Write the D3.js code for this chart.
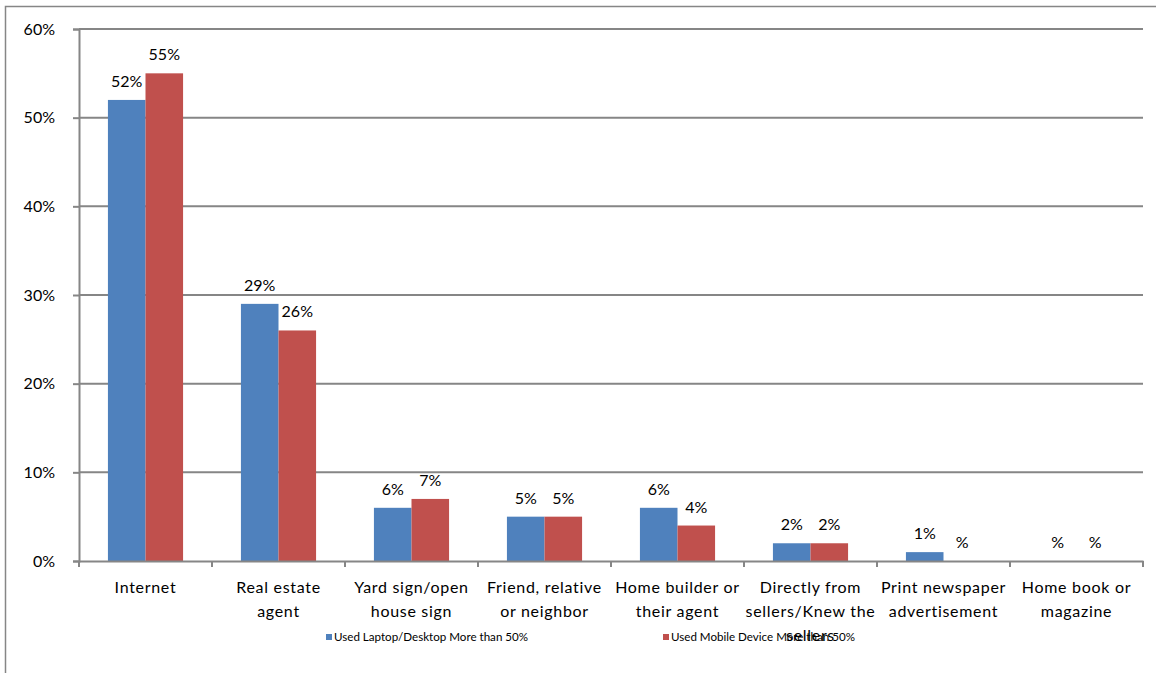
<!DOCTYPE html>
<html>
<head>
<meta charset="utf-8">
<script src="https://cdn.jsdelivr.net/npm/d3@7"></script>
<style>
  html, body { margin: 0; padding: 0; background: #fff; }
  svg { display: block; font-family: Lato, "Open Sans", sans-serif; }
</style>
</head>
<body>
<svg id="chart" width="1156" height="673"></svg>
<script>
// Source of the home that was purchased, by device used most during the search
const categories = [
  "Internet",
  "Real estate\nagent",
  "Yard sign/open\nhouse sign",
  "Friend, relative\nor neighbor",
  "Home builder or\ntheir agent",
  "Directly from\nsellers/Knew the\nsellers",
  "Print newspaper\nadvertisement",
  "Home book or\nmagazine"
];
const seriesNames = [
  "Used Laptop/Desktop More than 50%",
  "Used Mobile Device More than 50%"
];
const laptopValues = [52, 29, 6, 5, 6, 2, 1, 0];
const mobileValues = [55, 26, 7, 5, 4, 2, 0, 0];
const yTicks = [0, 10, 20, 30, 40, 50, 60];
const colors = ["#4F81BD", "#C0504D"];

const svg = d3.select("#chart");
const margin = { left: 79, right: 1143, top: 29, bottom: 561 };

// outer chart frame
svg.append("path")
  .attr("d", "M5.5,673 V6.5 H1156")
  .attr("fill", "none")
  .attr("stroke", "#868686")
  .attr("stroke-width", 1.5);

const x = d3.scaleBand()
  .domain(categories)
  .range([margin.left, margin.right])
  .paddingInner(0)
  .paddingOuter(0);

const inner = d3.scaleBand()
  .domain([0, 1])
  .range([0, x.bandwidth()])
  .paddingOuter(0.77)
  .paddingInner(0);

const y = d3.scaleLinear().domain([0, 60]).range([margin.bottom, margin.top]);

// horizontal gridlines
svg.append("g")
  .selectAll("line")
  .data(yTicks.filter(t => t > 0))
  .join("line")
  .attr("x1", margin.left).attr("x2", margin.right)
  .attr("y1", d => y(d)).attr("y2", d => y(d))
  .attr("stroke", "#868686").attr("stroke-width", 2);

// y axis
const yAxis = svg.append("g")
  .attr("transform", `translate(${margin.left},0)`)
  .call(d3.axisLeft(y).tickValues(yTicks).tickFormat(d => d + "%").tickSize(6).tickPadding(18));
yAxis.select(".domain").attr("stroke", "#868686").attr("stroke-width", 2);
yAxis.selectAll(".tick line").attr("stroke", "#868686").attr("stroke-width", 2);
yAxis.selectAll("text").attr("font-size", 16).attr("fill", "#000")
  .attr("font-family", "Lato, sans-serif");

// bars
const rows = categories.map((c, i) => ({ cat: c, vals: [laptopValues[i], mobileValues[i]] }));
const groups = svg.append("g").selectAll("g")
  .data(rows)
  .join("g")
  .attr("transform", d => `translate(${x(d.cat)},0)`);

groups.selectAll("rect")
  .data(d => d.vals.map((v, s) => ({ v, s })))
  .join("rect")
  .attr("x", d => inner(d.s))
  .attr("width", inner.bandwidth())
  .attr("y", d => y(d.v))
  .attr("height", d => y(0) - y(d.v))
  .attr("fill", d => colors[d.s]);

// value labels
groups.selectAll("text")
  .data(d => d.vals.map((v, s) => ({ v, s })))
  .join("text")
  .attr("x", d => inner(d.s) + inner.bandwidth() / 2)
  .attr("y", d => y(d.v) - 13)
  .attr("text-anchor", "middle")
  .attr("font-size", 16)
  .attr("fill", "#000")
  .text(d => (d.v === 0 ? "" : d.v) + "%");

// x axis
const xAxis = svg.append("g")
  .attr("transform", `translate(0,${margin.bottom})`)
  .call(d3.axisBottom(x).tickSize(0).tickFormat(""));
xAxis.select(".domain").attr("stroke", "#868686").attr("stroke-width", 2);

// category boundary ticks
svg.append("g").selectAll("line")
  .data(d3.range(categories.length + 1))
  .join("line")
  .attr("x1", i => margin.left + i * x.step())
  .attr("x2", i => margin.left + i * x.step())
  .attr("y1", margin.bottom).attr("y2", margin.bottom + 6)
  .attr("stroke", "#868686").attr("stroke-width", 2);

// legend (drawn first so the wrapped category text sits on top, as in the layout)
const legendX = [326, 663];
const legend = svg.append("g").selectAll("g")
  .data(seriesNames)
  .join("g")
  .attr("transform", (d, i) => `translate(${legendX[i]},634)`);
legend.append("rect")
  .attr("width", 6).attr("height", 6)
  .attr("fill", (d, i) => colors[i]);
legend.append("text")
  .attr("x", 8).attr("y", 7)
  .attr("font-size", 11.6)
  .attr("fill", "#000")
  .text(d => d);

// category labels, wrapped
const catLabels = svg.append("g").selectAll("text")
  .data(categories)
  .join("text")
  .attr("x", d => x(d) + x.bandwidth() / 2)
  .attr("y", 593)
  .attr("text-anchor", "middle")
  .attr("font-size", 16)
  .attr("letter-spacing", 0.7)
  .attr("fill", "#000");
catLabels.each(function(d) {
  const t = d3.select(this);
  d.split("\n").forEach((line, i) => {
    t.append("tspan")
      .attr("x", x(d) + x.bandwidth() / 2)
      .attr("dy", i === 0 ? 0 : 24)
      .text(line);
  });
});
</script>
</body>
</html>
